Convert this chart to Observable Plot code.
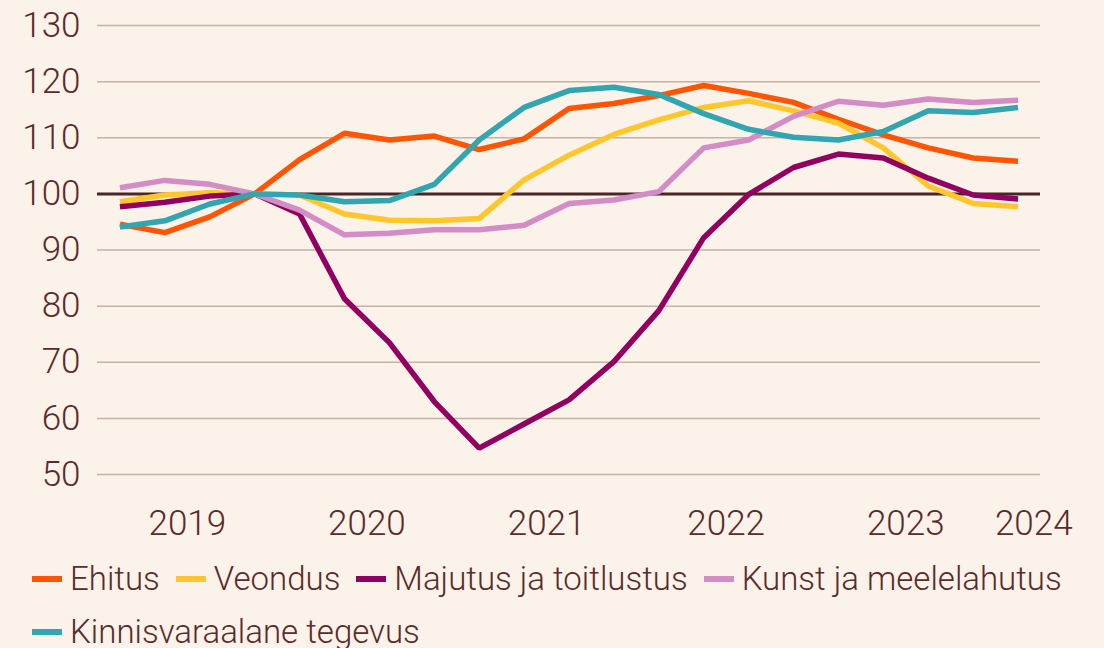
<!DOCTYPE html>
<html><head><meta charset="utf-8">
<script src="https://cdn.jsdelivr.net/npm/d3@7"></script>
<script src="https://cdn.jsdelivr.net/npm/@observablehq/plot@0.6"></script>
<style>
html,body{margin:0;padding:0;background:#fbf2e9;}
body{font-family:Roboto,sans-serif;font-weight:300;color:#5a2b2b;width:1104px;height:648px;overflow:hidden;}
#chart svg{display:block;}
#legend{display:flex;flex-wrap:wrap;padding-left:32px;width:1072px;font-size:33px;line-height:53px;margin-top:4px;}
.item{display:flex;align-items:center;margin-right:16px;white-space:nowrap;}
.sw{display:inline-block;width:30px;height:6px;margin-right:8px;}
</style></head><body><div id="chart"></div><div id="legend"></div>
<script>
const quarters = ["2019 I","2019 II","2019 III","2019 IV","2020 I","2020 II","2020 III","2020 IV","2021 I","2021 II","2021 III","2021 IV","2022 I","2022 II","2022 III","2022 IV","2023 I","2023 II","2023 III","2023 IV","2024 I"];
const seriesNames = ["Ehitus","Veondus","Majutus ja toitlustus","Kunst ja meelelahutus","Kinnisvaraalane tegevus"];
const seriesColors = ["#ff5400","#ffc72c","#910060","#d38cc5","#31a5b0"];
const ehitus = [94.6, 93.1, 95.9, 100, 106.1, 110.8, 109.6, 110.3, 107.9, 109.8, 115.2, 116.1, 117.5, 119.3, 117.9, 116.3, 113.3, 110.5, 108.2, 106.4, 105.8];
const veondus = [98.6, 99.8, 100.2, 100, 99.8, 96.4, 95.3, 95.2, 95.6, 102.5, 106.9, 110.6, 113.2, 115.4, 116.6, 114.8, 112.6, 108.2, 101.4, 98.3, 97.7];
const majutus = [97.7, 98.5, 99.6, 100, 96.4, 81.3, 73.5, 63.0, 54.7, 59.0, 63.3, 70.1, 79.2, 92.2, 99.9, 104.7, 107.1, 106.4, 102.8, 99.8, 99.1];
const kunst = [101.1, 102.4, 101.7, 100, 97.1, 92.7, 93.0, 93.6, 93.6, 94.4, 98.3, 98.9, 100.4, 108.2, 109.6, 113.8, 116.5, 115.8, 116.9, 116.3, 116.7];
const kinnisvara = [94.1, 95.2, 98.2, 100, 99.8, 98.6, 98.8, 101.7, 109.6, 115.4, 118.4, 119.0, 117.7, 114.3, 111.5, 110.1, 109.6, 111.1, 114.8, 114.5, 115.4];
const yTicks = [50, 60, 70, 80, 90, 100, 110, 120, 130];
const yearLabels = ["2019","2020","2021","2022","2023","2024"];

const allSeries = [ehitus, veondus, majutus, kunst, kinnisvara];
const data = [];
allSeries.forEach((vals, si) => vals.forEach((v, i) => data.push({s: seriesNames[si], i, q: quarters[i], v})));

// label each year at the middle of its quarters; a partial final year is nudged right
const yearData = yearLabels.map(y => {
  const idx = quarters.map((q, i) => q.startsWith(y) ? i : -1).filter(i => i >= 0);
  const m = d3.mean(idx);
  return {label: y, x: idx.length < 4 ? m + 0.35 : m};
});

const textColor = "#5a2b2b";
const chart = Plot.plot({
  width: 1104, height: 548,
  marginLeft: 97, marginRight: 64, marginTop: 25, marginBottom: 74,
  style: {background: "transparent", fontFamily: "Roboto, sans-serif", fontWeight: 300, color: textColor},
  x: {domain: [-0.5, 20.5], axis: null},
  y: {domain: [50, 130], axis: null},
  color: {domain: seriesNames, range: seriesColors},
  marks: [
    Plot.ruleY(yTicks.filter(d => d !== 100), {stroke: "#c6b2a6", strokeWidth: 1.5}),
    Plot.ruleY([100], {stroke: "#4b2527", strokeWidth: 3}),
    Plot.text(yTicks, {x: -0.5, y: d => d, text: d => String(d), textAnchor: "end", dx: -17, fontSize: 35, fill: textColor, fontWeight: 300}),
    Plot.line(data, {x: "i", y: "v", z: "s", stroke: "s", strokeWidth: 5.5, strokeLinejoin: "miter", strokeLinecap: "butt"}),
    Plot.text(yearData, {x: "x", y: () => 50, text: "label", dy: 49, fontSize: 35, fill: textColor, fontWeight: 300})
  ]
});
document.getElementById("chart").appendChild(chart);

const legend = document.getElementById("legend");
seriesNames.forEach((n, i) => {
  const it = document.createElement("div");
  it.className = "item";
  it.innerHTML = `<span class="sw" style="background:${seriesColors[i]}"></span><span>${n}</span>`;
  legend.appendChild(it);
});
</script></body></html>
